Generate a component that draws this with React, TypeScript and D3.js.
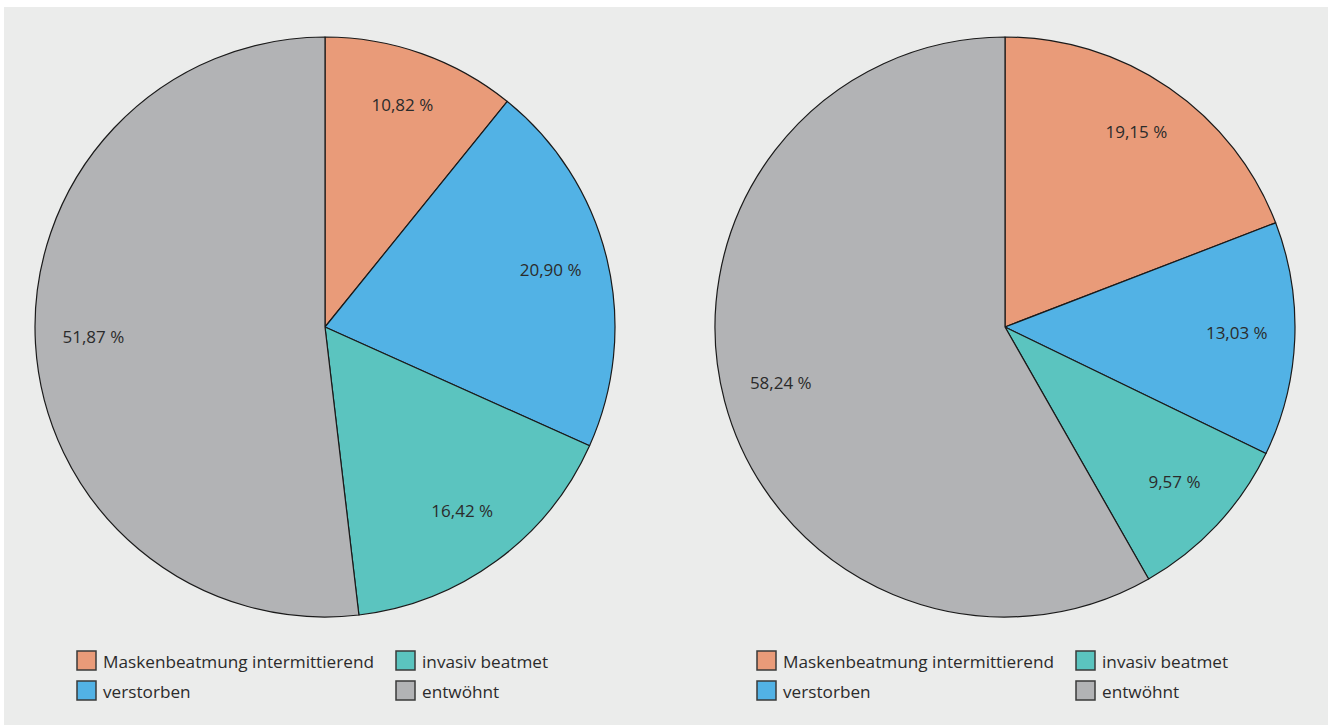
import React from "react";
import * as d3 from "d3";

const categories = ["Maskenbeatmung intermittierend", "verstorben", "invasiv beatmet", "entwöhnt"];
const colors = ["#e99b79", "#52b2e5", "#5bc4bf", "#b2b3b5"];
const leftValues = [10.82, 20.9, 16.42, 51.87];
const rightValues = [19.15, 13.03, 9.57, 58.24];
const legendOrder = [0, 2, 1, 3]; // row-major: Masken, invasiv / verstorben, entwöhnt

const W = 1335;
const H = 726;
const R = 290;
const FONT = "'Open Sans', sans-serif";

function fmt(v: number) {
  return v.toFixed(2).replace(".", ",") + " %";
}

function Pie({ cx, cy, values }: { cx: number; cy: number; values: number[] }) {
  const pie = d3.pie<number>().sort(null).value((d) => d);
  const arcs = pie(values);
  const arc = d3.arc<d3.PieArcDatum<number>>().innerRadius(0).outerRadius(R);
  const labelArc = d3.arc<d3.PieArcDatum<number>>().innerRadius(232).outerRadius(232);
  return (
    <g transform={`translate(${cx},${cy})`}>
      {arcs.map((a, i) => (
        <path key={i} d={arc(a) || ""} fill={colors[i]} stroke="#1a1a1a" strokeWidth={1.2} strokeLinejoin="round" />
      ))}
      {arcs.map((a, i) => {
        const [x, y] = labelArc.centroid(a);
        return (
          <text key={"t" + i} x={x} y={y - 4} textAnchor="middle" dominantBaseline="central" fontFamily={FONT} fontSize={17} fill="#2b2b2b">
            {fmt(values[i])}
          </text>
        );
      })}
    </g>
  );
}

function Legend({ x, y }: { x: number; y: number }) {
  const colX = [0, 319];
  const rowY = [0, 30];
  return (
    <g transform={`translate(${x},${y})`}>
      {legendOrder.map((ci, k) => {
        const col = k % 2;
        const row = Math.floor(k / 2);
        const lx = colX[col];
        const ly = rowY[row];
        return (
          <g key={k} transform={`translate(${lx},${ly})`}>
            <rect x={0} y={0} width={19} height={19} fill={colors[ci]} stroke="#3a3a3a" strokeWidth={1.5} />
            <text x={26} y={10} dominantBaseline="central" fontFamily={FONT} fontSize={17.2} fill="#2b2b2b">
              {categories[ci]}
            </text>
          </g>
        );
      })}
    </g>
  );
}

export default function App() {
  return (
    <svg width={W} height={H} style={{ position: "absolute", left: 0, top: 0, display: "block" }}>
      <rect x={0} y={0} width={W} height={H} fill="#ffffff" />
      <rect x={4} y={7} width={1324} height={718} fill="#ebeceb" />
      <Pie cx={325} cy={327} values={leftValues} />
      <Pie cx={1005} cy={327} values={rightValues} />
      <Legend x={77} y={651} />
      <Legend x={757} y={651} />
    </svg>
  );
}
